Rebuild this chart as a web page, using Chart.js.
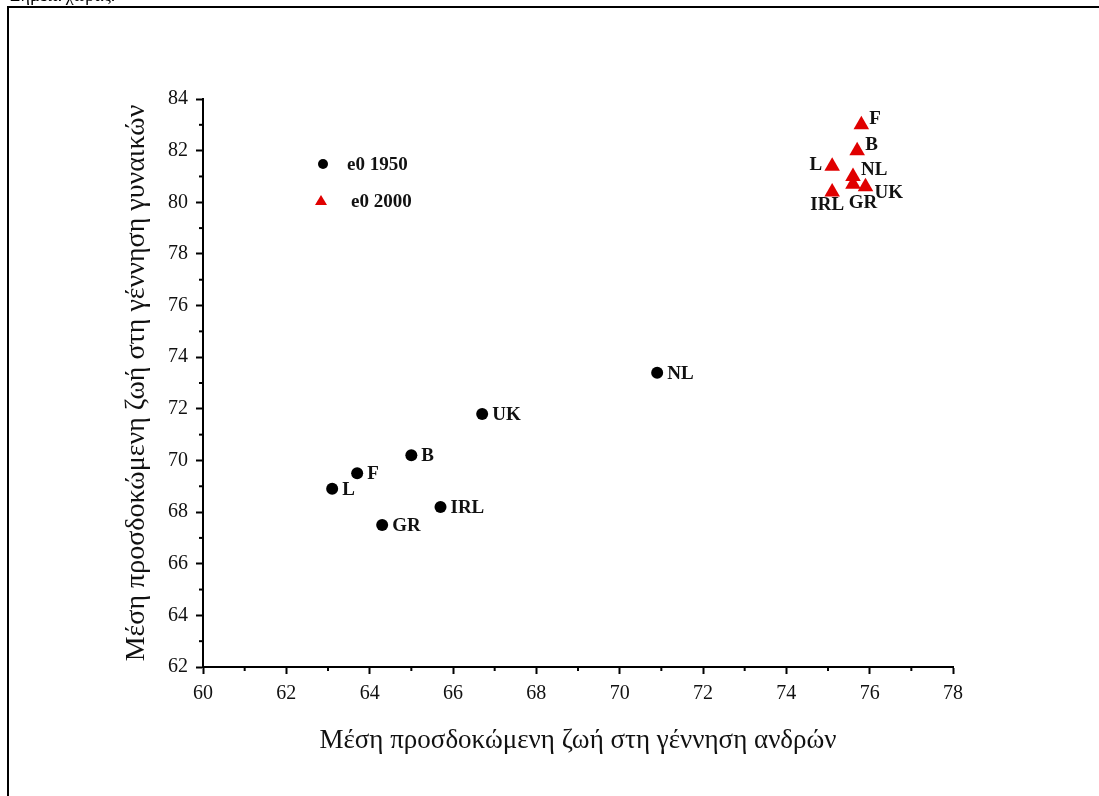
<!DOCTYPE html>
<html>
<head>
<meta charset="utf-8">
<script src="https://cdn.jsdelivr.net/npm/chart.js@4.4.0/dist/chart.umd.min.js"></script>
<style>
    body { margin: 0; background: #fff; }
    #wrap { position: relative; width: 1099px; height: 796px; overflow: hidden; }
    #frame { position: absolute; left: 7px; top: 6px; right: 0; bottom: 0; border-left: 2px solid #000; border-top: 2px solid #000; }
    #cap { position: absolute; left: 10px; top: -15px; font: 18px "Liberation Serif", serif; color: #000; }
</style>
</head>
<body>
<div id="wrap">
    <div id="cap">Σημεία χώρας.</div>
    <div id="frame"></div>
    <canvas id="scatterChart"></canvas>
</div>
<script>
    // 1950
    const countries1950 = ['NL', 'UK', 'B', 'F', 'L', 'IRL', 'GR'];
    const male1950 = [70.9, 66.7, 65.0, 63.7, 63.1, 65.7, 64.3];
    const female1950 = [73.4, 71.8, 70.2, 69.5, 68.9, 68.2, 67.5];

    // 2000
    const countries2000 = ['F', 'B', 'L', 'NL', 'UK', 'IRL', 'GR'];
    const male2000 = [75.8, 75.7, 75.1, 75.6, 75.9, 75.1, 75.6];
    const female2000 = [83.0, 82.0, 81.4, 81.0, 80.6, 80.4, 80.7];

    const seriesNames = ['e0 1950', 'e0 2000'];
    const xTitle = 'Μέση προσδοκώμενη ζωή στη γέννηση ανδρών';
    const yTitle = 'Μέση προσδοκώμενη ζωή στη γέννηση γυναικών';

    const serif = '"Liberation Serif", "Times New Roman", serif';

    // where the country labels go for the 2000 cluster
    const place2000 = {L: 'left', IRL: 'below', GR: 'below', F: 'upright', B: 'upright', NL: 'upright', UK: 'downright'};

    const extras = {
        id: 'extras',
        afterDatasetsDraw(chart) {
            const ctx = chart.ctx;
            const xs = chart.scales.x, ys = chart.scales.y;
            ctx.save();

            // minor ticks
            ctx.strokeStyle = '#000';
            ctx.lineWidth = 2;
            for (let v = xs.min + 1; v < xs.max; v += 2) {
                const px = xs.getPixelForValue(v);
                ctx.beginPath(); ctx.moveTo(px, xs.top); ctx.lineTo(px, xs.top + 4); ctx.stroke();
            }
            for (let v = ys.min + 1; v < ys.max; v += 2) {
                const py = ys.getPixelForValue(v);
                ctx.beginPath(); ctx.moveTo(ys.right - 4, py); ctx.lineTo(ys.right, py); ctx.stroke();
            }

            // country labels
            ctx.fillStyle = '#111';
            ctx.font = 'bold 19px ' + serif;
            chart.getDatasetMeta(0).data.forEach((pt, i) => {
                ctx.textAlign = 'left'; ctx.textBaseline = 'middle';
                ctx.fillText(countries1950[i], pt.x + 10, pt.y + 1);
            });
            chart.getDatasetMeta(1).data.forEach((pt, i) => {
                const name = countries2000[i];
                const p = place2000[name];
                ctx.textBaseline = 'middle';
                if (p === 'left') {
                    ctx.textAlign = 'right'; ctx.fillText(name, pt.x - 10, pt.y - 1);
                } else if (p === 'below') {
                    ctx.textAlign = 'center'; ctx.fillText(name, pt.x + (name === 'GR' ? 10 : -5), pt.y + (name === 'GR' ? 19 : 13));
                } else if (p === 'upright') {
                    ctx.textAlign = 'left'; ctx.fillText(name, pt.x + 8, pt.y - 6);
                } else {
                    ctx.textAlign = 'left'; ctx.fillText(name, pt.x + 9, pt.y + 6);
                }
            });

            // legend
            const lx = chart.chartArea.left + 120, ly = chart.chartArea.top + 65;
            ctx.fillStyle = '#000';
            ctx.beginPath(); ctx.arc(lx, ly, 5, 0, Math.PI * 2); ctx.fill();
            ctx.fillStyle = '#e00000';
            ctx.beginPath();
            ctx.moveTo(lx - 2, ly + 31); ctx.lineTo(lx + 4, ly + 41); ctx.lineTo(lx - 8, ly + 41);
            ctx.closePath(); ctx.fill();
            ctx.fillStyle = '#111';
            ctx.font = 'bold 19px ' + serif;
            ctx.textAlign = 'left'; ctx.textBaseline = 'middle';
            ctx.fillText(seriesNames[0], lx + 24, ly + 1);
            ctx.fillText(seriesNames[1], lx + 28, ly + 38);
            ctx.restore();
        }
    };

    function axis(title, titleSize, extra) {
        return Object.assign({
            type: 'linear',
            ticks: {
                stepSize: 1,
                autoSkip: false,
                maxRotation: 0,
                color: '#111',
                font: {family: serif, size: 20},
                callback: v => (v % 2 === 0 ? v : '')
            },
            grid: {
                drawOnChartArea: false,
                tickLength: 7,
                tickWidth: 2,
                tickColor: c => (c.tick && c.tick.value % 2 === 0 ? '#000' : 'rgba(0,0,0,0)')
            },
            border: {color: '#000', width: 2},
            title: {display: true, text: title, color: '#111', font: {family: serif, size: titleSize}, padding: 0}
        }, extra);
    }

    const xAxis = axis(xTitle, 27, {min: 60, max: 78, afterFit: s => { s.height = 90; }});
    xAxis.ticks.padding = 8;
    const yAxis = axis(yTitle, 28, {min: 62, max: 84, afterFit: s => { s.width = 83; }});
    yAxis.ticks.padding = 8;

    const chart = new Chart(document.getElementById('scatterChart'), {
        type: 'scatter',
        data: {
            datasets: [{
                label: seriesNames[0],
                data: male1950.map((m, i) => ({x: m, y: female1950[i]})),
                pointStyle: 'circle',
                pointRadius: 6,
                backgroundColor: '#000',
                borderColor: '#000',
                borderWidth: 0
            }, {
                label: seriesNames[1],
                data: male2000.map((m, i) => ({x: m, y: female2000[i]})),
                pointStyle: 'triangle',
                pointRadius: 9,
                backgroundColor: '#e00000',
                borderColor: '#e00000',
                borderWidth: 0
            }]
        },
        options: {
            responsive: true,
            maintainAspectRatio: false,
            animation: false,
            layout: {padding: {left: 120, top: 99, right: 146, bottom: 39}},
            plugins: {legend: {display: false}, tooltip: {enabled: false}},
            scales: {x: xAxis, y: yAxis}
        },
        plugins: [extras]
    });
</script>
</body>
</html>
